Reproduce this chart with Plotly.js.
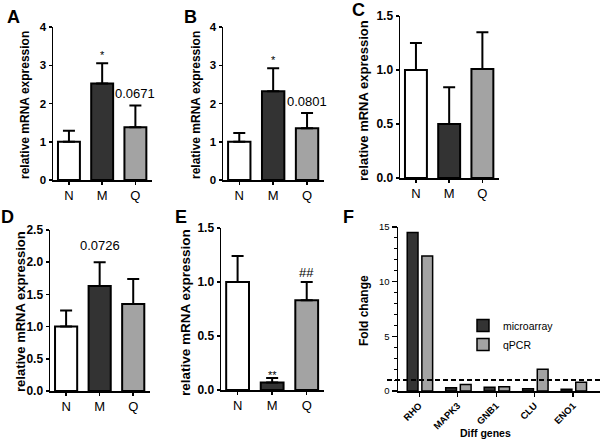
<!DOCTYPE html>
<html><head><meta charset="utf-8">
<script src="https://cdn.plot.ly/plotly-3.0.1.min.js"></script>
<style>html,body{margin:0;padding:0;background:#fff}#chart{width:600px;height:440px}</style>
</head><body><div id="chart"></div>
<script>
// ---- data ----
const groups = ['N', 'M', 'Q'];
const barColors = ['#ffffff', '#333333', '#a3a3a3'];
const aMean = [1.0, 2.52, 1.38];  const aUpper = [1.29, 3.05, 1.95];
const bMean = [1.0, 2.32, 1.35];  const bUpper = [1.23, 2.92, 1.75];
const cMean = [1.0, 0.50, 1.01];  const cUpper = [1.25, 0.84, 1.35];
const dMean = [1.0, 1.63, 1.35];  const dUpper = [1.25, 2.00, 1.74];
const eMean = [1.0, 0.07, 0.83];  const eUpper = [1.24, 0.11, 1.00];
const aNotes = ['', '*', '0.0671'];
const bNotes = ['', '*', '0.0801'];
const cNotes = ['', '', ''];
const dNotes = ['', '0.0726', ''];
const eNotes = ['', '**', '##'];
const genes = ['RHO', 'MAPK3', 'GNB1', 'CLU', 'ENO1'];
const microarray = [14.5, 0.30, 0.35, 0.20, 0.15];
const qpcr = [12.35, 0.60, 0.40, 2.00, 0.80];
const threshold = 1;
const yTitle = 'relative mRNA expression';

// ---- layout helpers ----
const W = 600, H = 440;
const FF = 'Liberation Sans, Arial, sans-serif';
const fx = p => p / W;
const fy = p => 1 - p / H;

const panels = [
  {label:'A', mean:aMean, upper:aUpper, notes:aNotes, ymax:4,   dtick:1,   fmt:'',    px:[53,152],  py:[27,180],  lab:[13,17],  tx:25,  ty:105, ts:12,   tk:11.5, noteShift:[0,0,2]},
  {label:'B', mean:bMean, upper:bUpper, notes:bNotes, ymax:4,   dtick:1,   fmt:'',    px:[223,324], py:[27,180],  lab:[190,17], tx:196, ty:105, ts:12,   tk:11.5, noteShift:[0,0,2]},
  {label:'C', mean:cMean, upper:cUpper, notes:cNotes, ymax:1.5, dtick:0.5, fmt:'.1f', px:[400,499], py:[16,178],  lab:[358,10], tx:364, ty:101, ts:13,   tk:12,   noteShift:[0,0,0]},
  {label:'D', mean:dMean, upper:dUpper, notes:dNotes, ymax:2.5, dtick:0.5, fmt:'.1f', px:[50,150],  py:[230,391], lab:[7,217],  tx:20,  ty:312, ts:13,   tk:12,   noteShift:[0,7,0]},
  {label:'E', mean:eMean, upper:eUpper, notes:eNotes, ymax:1.5, dtick:0.5, fmt:'.1f', px:[221,324], py:[228,390], lab:[181,217],tx:185, ty:313, ts:13.5, tk:12,   noteShift:[0,-5,0]}
];

const traces = [];
const layout = {
  width: W, height: H, margin: {l:0, r:0, t:0, b:0},
  paper_bgcolor: '#fff', plot_bgcolor: 'rgba(0,0,0,0)',
  showlegend: true, annotations: [], shapes: [],
  font: {family: FF, color: '#000'}
};

panels.forEach((p, i) => {
  const n = i + 1;
  const xa = n === 1 ? 'x' : 'x' + n;
  const ya = n === 1 ? 'y' : 'y' + n;
  const xk = n === 1 ? 'xaxis' : 'xaxis' + n;
  const yk = n === 1 ? 'yaxis' : 'yaxis' + n;
  traces.push({
    type: 'bar', x: groups, y: p.mean, xaxis: xa, yaxis: ya, width: 0.66,
    marker: {color: barColors, line: {color: '#000', width: 2}},
    error_y: {type: 'data', symmetric: false, array: p.upper.map((u, k) => u - p.mean[k]),
              arrayminus: p.mean.map(() => 0), color: '#000', thickness: 2, width: 6},
    showlegend: false, hoverinfo: 'skip'
  });
  layout[xk] = {
    domain: [fx(p.px[0]), fx(p.px[1])], anchor: ya, type: 'category', range: [-0.48, 2.5],
    showline: true, linewidth: 1.5, linecolor: '#000', ticks: 'outside', ticklen: 3, tickwidth: 1.5,
    tickcolor: '#000', tickfont: {size: 13, color: '#000', family: FF},
    showgrid: false, zeroline: false, fixedrange: true
  };
  layout[yk] = {
    domain: [fy(p.py[1]), fy(p.py[0])], anchor: xa, range: [0, p.ymax], dtick: p.dtick, tick0: 0,
    tickformat: p.fmt, showline: true, linewidth: 1.5, linecolor: '#000', ticks: 'outside',
    ticklen: 3, tickwidth: 1.5, tickcolor: '#000',
    tickfont: {size: p.tk, color: '#000', family: FF, weight: 700},
    showgrid: false, zeroline: false, fixedrange: true
  };
  p.notes.forEach((t, k) => {
    if (!t) return;
    layout.annotations.push({
      xref: xa, yref: ya, x: groups[k], y: p.upper[k], text: t, showarrow: false,
      xanchor: 'center', yanchor: 'bottom', yshift: p.noteShift[k],
      font: {size: (t === '*' || t === '**') ? 11 : 13, color: '#000', family: FF}
    });
  });
  layout.annotations.push({
    xref: 'paper', yref: 'paper', x: fx(p.lab[0]), y: fy(p.lab[1]), text: '<b>' + p.label + '</b>',
    showarrow: false, xanchor: 'center', yanchor: 'middle', font: {size: 18, family: FF, color: '#000'}
  });
  layout.annotations.push({
    xref: 'paper', yref: 'paper', x: fx(p.tx), y: fy(p.ty), text: '<b>' + yTitle + '</b>',
    textangle: -90, showarrow: false, xanchor: 'center', yanchor: 'middle',
    font: {size: p.ts, family: FF, color: '#000'}
  });
});

// ---- panel F ----
traces.push({
  type: 'bar', name: 'microarray', x: genes, y: microarray, xaxis: 'x6', yaxis: 'y6',
  width: 0.28, offset: -0.31, marker: {color: '#333333', line: {color: '#000', width: 1.5}}, hoverinfo: 'skip'
});
traces.push({
  type: 'bar', name: 'qPCR', x: genes, y: qpcr, xaxis: 'x6', yaxis: 'y6',
  width: 0.28, offset: 0.07, marker: {color: '#a3a3a3', line: {color: '#000', width: 1.5}}, hoverinfo: 'skip'
});
layout.xaxis6 = {
  domain: [fx(398), 1], anchor: 'y6', type: 'category', range: [-0.55, 4.7],
  showline: true, linewidth: 1.5, linecolor: '#000', ticks: 'outside', ticklen: 4, tickwidth: 1.2,
  tickcolor: '#000', tickangle: -45, tickfont: {size: 9.5, color: '#000', family: FF, weight: 700},
  showgrid: false, zeroline: false, fixedrange: true
};
layout.yaxis6 = {
  domain: [fy(391), fy(227)], anchor: 'x6', range: [0, 15], dtick: 5, tick0: 0,
  showline: true, linewidth: 1.5, linecolor: '#000', ticks: 'outside', ticklen: 5, tickwidth: 1.2,
  tickcolor: '#000', tickfont: {size: 9.5, color: '#000', family: FF},
  minor: {dtick: 1, ticks: 'outside', ticklen: 3, tickwidth: 1, tickcolor: '#000', showgrid: false},
  showgrid: false, zeroline: false, fixedrange: true
};
layout.shapes.push({
  type: 'line', xref: 'paper', yref: 'y6', x0: fx(387), x1: 1, y0: threshold, y1: threshold,
  line: {color: '#000', width: 2, dash: '5px,3px'}
});
layout.annotations.push({
  xref: 'paper', yref: 'paper', x: fx(348), y: fy(217), text: '<b>F</b>', showarrow: false,
  xanchor: 'center', yanchor: 'middle', font: {size: 18, family: FF, color: '#000'}
});
layout.annotations.push({
  xref: 'paper', yref: 'paper', x: fx(364), y: fy(311), text: '<b>Fold change</b>', textangle: -90,
  showarrow: false, xanchor: 'center', yanchor: 'middle', font: {size: 12, family: FF, color: '#000'}
});
layout.annotations.push({
  xref: 'paper', yref: 'paper', x: fx(485), y: fy(433), text: '<b>Diff genes</b>', showarrow: false,
  xanchor: 'center', yanchor: 'middle', font: {size: 10.5, family: FF, color: '#000'}
});
layout.legend = {
  x: fx(463), y: fy(311), xanchor: 'left', yanchor: 'top', bgcolor: 'rgba(0,0,0,0)',
  font: {size: 10.5, family: FF, color: '#000'}, tracegroupgap: 0, traceorder: 'normal'
};

Plotly.newPlot('chart', traces, layout, {staticPlot: true, displayModeBar: false});
</script>
</body></html>
